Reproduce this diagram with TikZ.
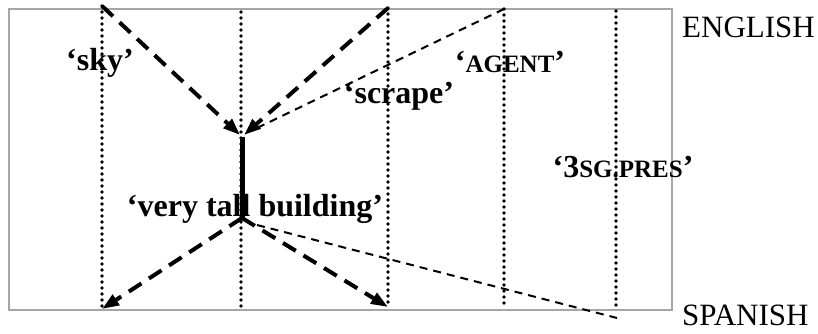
\documentclass[tikz,border=0pt]{standalone}
\usepackage{fontspec}
\setmainfont{Liberation Serif}
\usetikzlibrary{arrows.meta, positioning}

\newcommand{\glosssc}[1]{{\fontsize{25pt}{25pt}\selectfont #1}}

\begin{document}
\begin{tikzpicture}[x=1pt, y=-1pt,
    gloss/.style={font=\fontsize{32pt}{32pt}\selectfont\bfseries, inner sep=0pt, anchor=base},
    lang/.style={font=\fontsize{31pt}{31pt}\selectfont, inner sep=0pt, anchor=base west},
    column/.style={line width=3.6pt, dash pattern=on 0pt off 6pt, line cap=round},
    link/.style={line width=4pt, dash pattern=on 15pt off 9pt, -{Triangle[length=17pt,width=12pt]}},
    weak/.style={line width=2pt, dash pattern=on 8pt off 6pt}]
    \useasboundingbox (0,0) rectangle (818,333);
    \draw[gray!70, line width=1.8pt] (9,9) rectangle (672,310);

    % columns
    \coordinate (t1) at (102,6);   \coordinate (b1) at (102,309);
    \coordinate (t2) at (241,12);  \coordinate (b2) at (241,309);
    \coordinate (t3) at (388,8);   \coordinate (b3) at (388,307);
    \coordinate (t4) at (504,9);   \coordinate (b4) at (504,306);
    \coordinate (t5) at (616,11);  \coordinate (b5) at (616,308);

    % stem of the tree
    \coordinate (top) at (242,137);
    \coordinate (bot) at (242,218);
    \coordinate (w1) at (257,128);
    \coordinate (w2) at (257,225);
    \coordinate (e1) at (617,318);

    \node[gloss] (sky) at (100,70) {‘sky’};
    \node[gloss] (scrape) at (399,103) {‘scrape’};
    \node[gloss] (agent) at (510,72) {‘\glosssc{AGENT}’};
    \node[gloss] (pres) at (623,177) {‘3\glosssc{SG.PRES}’};
    \node[gloss] (building) at (255,216) {‘very tall building’};
    \node[lang] (english) at (682,37) {ENGLISH};
    \node[lang] (spanish) at (682,325) {SPANISH};

    \foreach \i in {1,...,5}
        \draw[column] (t\i) -- (b\i);

    \draw[link] (t1) -- (240,135);
    \draw[link] (t3) -- (244,135);
    \draw[weak] (t4) -- (w1);
    \draw[line width=5pt] (top) -- (bot);
    \draw[link] (bot) -- (b1);
    \draw[link] (bot) -- (b3);
    \draw[weak] (w2) -- (e1);
\end{tikzpicture}
\end{document}
